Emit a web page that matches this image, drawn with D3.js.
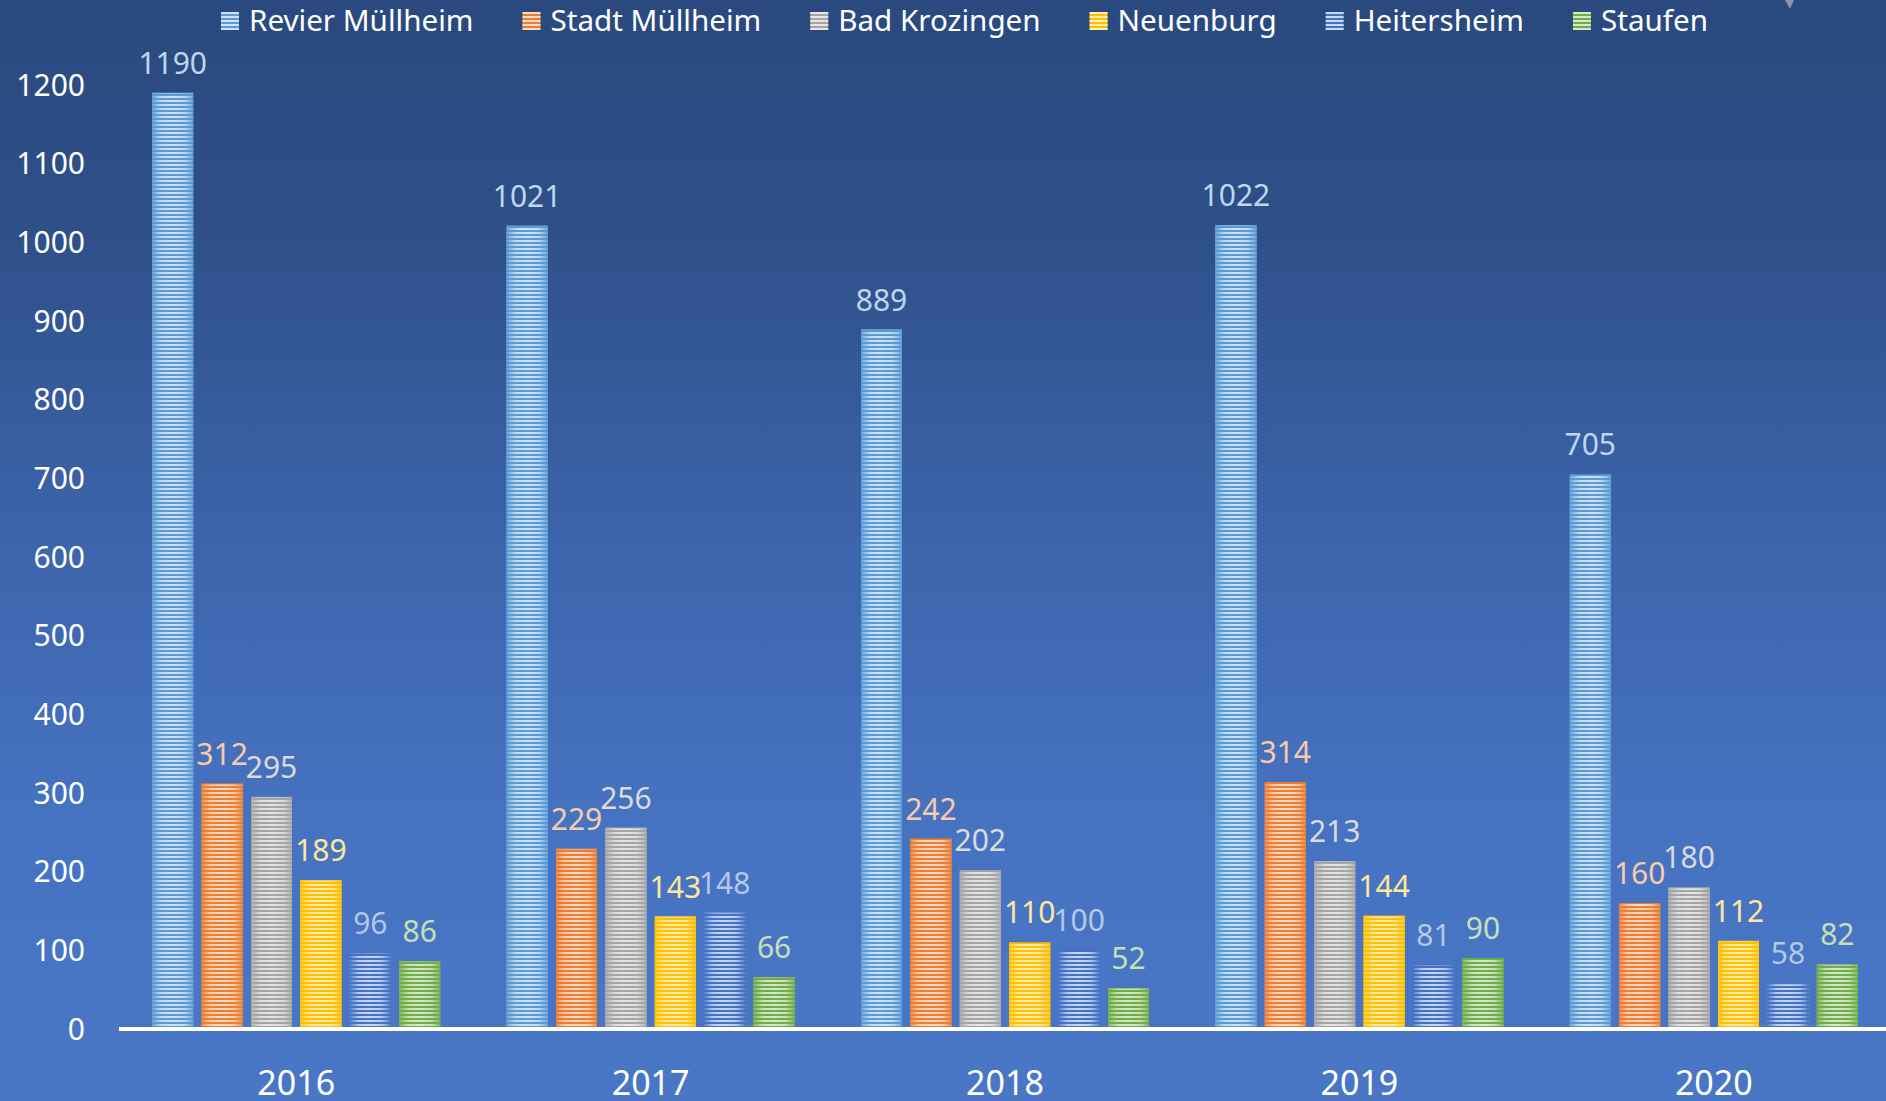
<!DOCTYPE html>
<html>
<head>
<meta charset="utf-8">
<script src="https://cdn.jsdelivr.net/npm/d3@7"></script>
<style>
  html, body { margin: 0; padding: 0; background: #2a4a7f; overflow: hidden; }
  svg { display: block; }
  text { font-family: "Segoe UI", "Noto Sans", "Open Sans", sans-serif; }
</style>
</head>
<body>
<svg id="chart" width="1886" height="1101"></svg>
<script>
// ---- data ----
const years = ["2016", "2017", "2018", "2019", "2020"];
const seriesNames = ["Revier Müllheim", "Stadt Müllheim", "Bad Krozingen", "Neuenburg", "Heitersheim", "Staufen"];
const revierMuellheim = [1190, 1021, 889, 1022, 705];
const stadtMuellheim = [312, 229, 242, 314, 160];
const badKrozingen = [295, 256, 202, 213, 180];
const neuenburg = [189, 143, 110, 144, 112];
const heitersheim = [96, 148, 100, 81, 58];
const staufen = [86, 66, 52, 90, 82];
const yTicks = [0, 100, 200, 300, 400, 500, 600, 700, 800, 900, 1000, 1100, 1200];

const seriesValues = [revierMuellheim, stadtMuellheim, badKrozingen, neuenburg, heitersheim, staufen];
const barColors = ["#5b9bd5", "#ed7d31", "#a5a5a5", "#ffc000", "#4472c4", "#70ad47"];
const labelColors = ["#bdd7ee", "#f8cbad", "#dbdbdb", "#ffe699", "#b4c7e7", "#c5e0b4"];

const W = 1886, H = 1101;
const svg = d3.select("#chart");
const defs = svg.append("defs");

// background gradient
const bg = defs.append("linearGradient").attr("id", "bg").attr("x1", 0).attr("y1", 0).attr("x2", 0).attr("y2", 1);
[[0, "#2a497e"], [0.2, "#2e4f88"], [0.5, "#3d65ad"], [0.75, "#4673c1"], [1, "#4977c6"]]
  .forEach(([o, c]) => bg.append("stop").attr("offset", o).attr("stop-color", c));
svg.append("rect").attr("width", W).attr("height", H).attr("fill", "url(#bg)");

// stripe pattern (white stripes)
const pat = defs.append("pattern").attr("id", "stripes").attr("patternUnits", "userSpaceOnUse")
  .attr("width", 8).attr("height", 4);
pat.append("rect").attr("x", 0).attr("y", 0).attr("width", 8).attr("height", 2).attr("fill", "#ffffff").attr("fill-opacity", 0.72);

// edge gradients per series
barColors.forEach((c, i) => {
  const g = defs.append("linearGradient").attr("id", "edge" + i).attr("x1", 0).attr("y1", 0).attr("x2", 1).attr("y2", 0);
  [[0, 0.85], [0.22, 0.15], [0.5, 0], [0.78, 0.15], [1, 0.85]].forEach(([o, a]) =>
    g.append("stop").attr("offset", o).attr("stop-color", c).attr("stop-opacity", a));
});

// scales
const y = d3.scaleLinear().domain([0, 1200]).range([1029, 85]);
const x0 = d3.scaleBand().domain(years).range([119, 1891]).paddingInner(0).paddingOuter(0);
const groupW = 288;
const x1 = d3.scaleBand().domain(seriesNames)
  .range([(x0.bandwidth() - groupW) / 2, (x0.bandwidth() + groupW) / 2])
  .paddingInner(0.17).paddingOuter(0);

// y axis labels
const yAxis = d3.axisLeft(y).tickValues(yTicks).tickSize(0).tickPadding(0).tickFormat(d3.format("d"));
const yg = svg.append("g").attr("transform", "translate(85,0)").call(yAxis);
yg.select(".domain").remove();
yg.selectAll("text").attr("fill", "#ffffff").attr("font-size", 30)
  .style("font-family", '"Segoe UI", "Noto Sans", sans-serif').attr("dy", "0.34em").attr("x", 0);

// bars
const groups = svg.append("g").selectAll("g").data(years).join("g")
  .attr("transform", d => `translate(${x0(d)},0)`);

groups.each(function(year, yi) {
  const g = d3.select(this);
  seriesNames.forEach((s, si) => {
    const v = seriesValues[si][yi];
    const bx = x1(s), bw = x1.bandwidth();
    const by = y(v), bh = y(0) - y(v);
    g.append("rect").attr("x", bx).attr("y", by).attr("width", bw).attr("height", bh)
      .attr("fill", barColors[si]);
    g.append("rect").attr("x", bx).attr("y", by).attr("width", bw).attr("height", bh)
      .attr("fill", "url(#stripes)");
    g.append("rect").attr("x", bx).attr("y", by).attr("width", bw).attr("height", bh)
      .attr("fill", `url(#edge${si})`);
    g.append("rect").attr("x", bx + 0.5).attr("y", by + 0.5).attr("width", bw - 1).attr("height", bh - 1)
      .attr("fill", "none").attr("stroke", barColors[si]).attr("stroke-opacity", 0.6).attr("stroke-width", 1);
    g.append("text").attr("x", bx + bw / 2).attr("y", by - 19)
      .attr("text-anchor", "middle").attr("font-size", 30).attr("fill", labelColors[si])
      .text(v);
  });
});

// x axis line
const xAxis = d3.axisBottom(x0).tickSize(0).tickPadding(0);
const xg = svg.append("g").attr("transform", `translate(0,${y(0)})`).call(xAxis);
xg.select(".domain").attr("stroke", "#ffffff").attr("stroke-width", 4).attr("d", `M${x0.range()[0]},0H${W}`);
xg.selectAll("text").attr("fill", "#ffffff").attr("font-size", 34)
  .style("font-family", '"Segoe UI", "Noto Sans", sans-serif').attr("y", 66).attr("dy", 0);

// legend
const legend = svg.append("g");
let lx = 221;
seriesNames.forEach((s, i) => {
  const item = legend.append("g").attr("transform", `translate(${lx},0)`);
  item.append("rect").attr("x", 0).attr("y", 12).attr("width", 18).attr("height", 18).attr("fill", barColors[i]);
  item.append("rect").attr("x", 0).attr("y", 12).attr("width", 18).attr("height", 18).attr("fill", "url(#stripes)");
  const t = item.append("text").attr("x", 28).attr("y", 31).attr("font-size", 29.6).attr("fill", "#ffffff").text(s);
  const tw = t.node().getComputedTextLength();
  lx += 28 + tw + 49;
});

// tiny marker at top right
svg.append("path").attr("d", "M1785,0 L1794,0 L1790,9 Z").attr("fill", "#8a93ad");
</script>
</body>
</html>
